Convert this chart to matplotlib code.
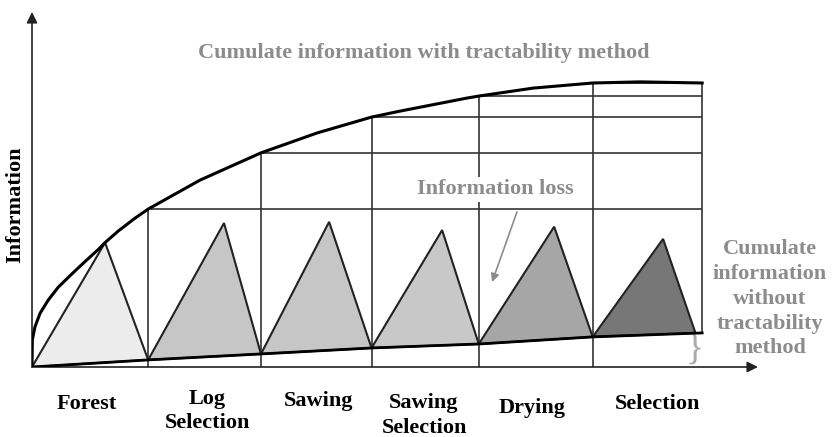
import matplotlib.pyplot as plt
from matplotlib.patches import Polygon

# stages along the x axis
stages = ["Forest", "Log\nSelection", "Sawing", "Sawing\nSelection", "Drying", "Selection"]

# stage boundaries (x) and information levels
bounds = [0, 1.04, 2.05, 3.04, 4.00, 5.02, 6.00]
upper_at_bounds = [0, 55.6, 75.4, 88.0, 95.4, 100.0, 100.0]
lower_at_bounds = [0, 2.5, 4.6, 6.7, 8.1, 10.6, 12.0]

# cumulate information with tractability (upper curve)
curve_x = [0, 0.003, 0.015, 0.027, 0.072, 0.146, 0.235, 0.355, 0.474, 0.594,
           0.654, 0.773, 0.922, 1.04, 1.504, 2.05, 2.552, 3.04, 3.295, 3.895,
           4.00, 4.486, 5.02, 5.445, 6.00]
curve_y = [0, 9.5, 11.9, 14.2, 18.9, 23.6, 28.1, 32.7, 37.1, 41.4,
           43.8, 47.9, 52.4, 55.6, 65.8, 75.4, 82.4, 88.0, 90.1, 94.7,
           95.4, 98.2, 100.0, 100.4, 100.0]

# triangles: apex of each stage, right base vertex of the last one
apex_x = [0.654, 1.719, 2.66, 3.672, 4.675, 5.65]
apex_y = [43.8, 50.7, 51.1, 48.2, 49.4, 45.1]
last_right_x = 5.94

tri_colors = ["#ececec", "#c6c6c6", "#c6c6c6", "#c8c8c8", "#a6a6a6", "#777777"]
label_x = [0.49, 1.57, 2.57, 3.51, 4.48, 5.60]
label_y = [-13.0, -15.5, -12.0, -17.0, -14.5, -13.0]

GRAY = "#8c8c8c"
FONT = "Liberation Serif"

fig = plt.figure(figsize=(8.32, 4.37), dpi=100)
ax = fig.add_axes([32 / 832, 1 - 367 / 437, 726 / 832, 355 / 437])
ax.set_xlim(0, 6.5)
ax.set_ylim(0, 125)
ax.axis("off")

# grid: vertical lines up to the curve, horizontal lines to the right edge
for i in range(1, 7):
    y0 = lower_at_bounds[i] if i == 6 else 0
    ax.plot([bounds[i], bounds[i]], [y0, upper_at_bounds[i]],
            color="#333333", lw=1.2, zorder=2, solid_capstyle="butt")
for i in range(1, 6):
    ax.plot([bounds[i], bounds[-1]], [upper_at_bounds[i]] * 2,
            color="#333333", lw=1.2, zorder=2, solid_capstyle="butt")

# triangles
for i in range(6):
    right_x = last_right_x if i == 5 else bounds[i + 1]
    pts = [(bounds[i], lower_at_bounds[i]),
           (apex_x[i], apex_y[i]),
           (right_x, lower_at_bounds[i + 1])]
    ax.add_patch(Polygon(pts, closed=True, facecolor=tri_colors[i],
                         edgecolor="#222222", lw=1.5, zorder=3, joinstyle="miter"))

# upper and lower curves
ax.plot(curve_x, curve_y, color="black", lw=2.2, zorder=4, solid_joinstyle="round")
ax.plot(bounds, lower_at_bounds, color="black", lw=2.0, zorder=4)

# axes arrows
arrow = dict(arrowstyle="-|>", color="#222222", lw=1.2, mutation_scale=16,
             shrinkA=0, shrinkB=0)
ax.annotate("", xy=(6.5, 0), xytext=(0, 0), arrowprops=arrow, annotation_clip=False)
ax.annotate("", xy=(0, 125), xytext=(0, 0), arrowprops=arrow, annotation_clip=False)

# texts
ax.text(3.51, 110.6, "Cumulate information with tractability method",
        ha="center", va="center", fontsize=16, fontweight="bold",
        family=FONT, color=GRAY)
ax.text(4.15, 62.5, "Information loss", ha="center", va="center", fontsize=16,
        fontweight="bold", family=FONT, color=GRAY, zorder=5,
        bbox=dict(facecolor="white", edgecolor="none", pad=2))
ax.annotate("", xy=(4.119, 29.9), xytext=(4.342, 54.6),
            arrowprops=dict(arrowstyle="-|>", color=GRAY, lw=1.2,
                            mutation_scale=12, shrinkA=0, shrinkB=0))
ax.text(-0.152, 57.0, "Information", rotation=90, ha="center", va="center",
        fontsize=16, fontweight="bold", family=FONT, color="black")
ax.text(6.607, 24.0, "Cumulate\ninformation\nwithout\ntractability\nmethod",
        ha="center", va="center", fontsize=16, fontweight="bold", family=FONT,
        color=GRAY, linespacing=1.32, multialignment="center")
ax.text(5.93, 6.3, "}", ha="center", va="center", fontsize=27,
        family=FONT, color="#aaaaaa")

for name, x, y in zip(stages, label_x, label_y):
    ax.text(x, y, name, ha="center", va="center", fontsize=16,
            fontweight="bold", family=FONT, color="black",
            linespacing=1.3, multialignment="center")

fig.savefig("out.png", dpi=100)
